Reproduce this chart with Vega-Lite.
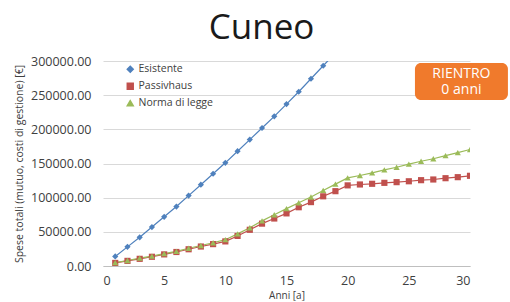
{
  "$schema": "https://vega.github.io/schema/vega-lite/v6.json",
  "autosize": {"type": "none"},
  "width": 367,
  "height": 205,
  "padding": {"left": 103, "top": 61, "right": 40, "bottom": 36},
  "background": "white",
  "title": {
    "text": "Cuneo",
    "font": "Open Sans",
    "fontSize": 35,
    "fontWeight": "normal",
    "color": "#1a1a1a",
    "anchor": "middle",
    "dx": -25,
    "offset": 9
  },
  "config": {
    "view": {"stroke": null},
    "font": "Open Sans",
    "axis": {
      "labelFont": "Open Sans",
      "labelFontSize": 12.5,
      "labelColor": "#404040",
      "titleFont": "Open Sans",
      "titleColor": "#404040",
      "titleFontWeight": "normal",
      "ticks": false,
      "gridColor": "#d9d9d9",
      "gridWidth": 1
    },
    "legend": {
      "orient": "none",
      "legendX": 22,
      "legendY": 3,
      "labelFontSize": 10.5,
      "labelColor": "#404040",
      "symbolSize": 35,
      "rowPadding": 4,
      "labelOffset": 3
    }
  },
  "datasets": {
    "series": [
      {"anno": 1, "spesa": 14000, "serie": "Esistente"},
      {"anno": 2, "spesa": 28000, "serie": "Esistente"},
      {"anno": 3, "spesa": 42000, "serie": "Esistente"},
      {"anno": 4, "spesa": 57000, "serie": "Esistente"},
      {"anno": 5, "spesa": 72000, "serie": "Esistente"},
      {"anno": 6, "spesa": 87000, "serie": "Esistente"},
      {"anno": 7, "spesa": 103000, "serie": "Esistente"},
      {"anno": 8, "spesa": 119000, "serie": "Esistente"},
      {"anno": 9, "spesa": 135000, "serie": "Esistente"},
      {"anno": 10, "spesa": 151000, "serie": "Esistente"},
      {"anno": 11, "spesa": 168000, "serie": "Esistente"},
      {"anno": 12, "spesa": 185000, "serie": "Esistente"},
      {"anno": 13, "spesa": 202000, "serie": "Esistente"},
      {"anno": 14, "spesa": 219000, "serie": "Esistente"},
      {"anno": 15, "spesa": 237000, "serie": "Esistente"},
      {"anno": 16, "spesa": 255000, "serie": "Esistente"},
      {"anno": 17, "spesa": 274000, "serie": "Esistente"},
      {"anno": 18, "spesa": 293000, "serie": "Esistente"},
      {"anno": 19, "spesa": 312000, "serie": "Esistente"},
      {"anno": 1, "spesa": 4500, "serie": "Passivhaus"},
      {"anno": 2, "spesa": 7500, "serie": "Passivhaus"},
      {"anno": 3, "spesa": 10500, "serie": "Passivhaus"},
      {"anno": 4, "spesa": 13500, "serie": "Passivhaus"},
      {"anno": 5, "spesa": 17000, "serie": "Passivhaus"},
      {"anno": 6, "spesa": 20500, "serie": "Passivhaus"},
      {"anno": 7, "spesa": 24500, "serie": "Passivhaus"},
      {"anno": 8, "spesa": 28500, "serie": "Passivhaus"},
      {"anno": 9, "spesa": 32000, "serie": "Passivhaus"},
      {"anno": 10, "spesa": 36000, "serie": "Passivhaus"},
      {"anno": 11, "spesa": 44000, "serie": "Passivhaus"},
      {"anno": 12, "spesa": 53000, "serie": "Passivhaus"},
      {"anno": 13, "spesa": 62000, "serie": "Passivhaus"},
      {"anno": 14, "spesa": 69500, "serie": "Passivhaus"},
      {"anno": 15, "spesa": 77000, "serie": "Passivhaus"},
      {"anno": 16, "spesa": 86000, "serie": "Passivhaus"},
      {"anno": 17, "spesa": 93500, "serie": "Passivhaus"},
      {"anno": 18, "spesa": 102000, "serie": "Passivhaus"},
      {"anno": 19, "spesa": 109500, "serie": "Passivhaus"},
      {"anno": 20, "spesa": 118000, "serie": "Passivhaus"},
      {"anno": 21, "spesa": 119300, "serie": "Passivhaus"},
      {"anno": 22, "spesa": 120300, "serie": "Passivhaus"},
      {"anno": 23, "spesa": 121700, "serie": "Passivhaus"},
      {"anno": 24, "spesa": 122700, "serie": "Passivhaus"},
      {"anno": 25, "spesa": 124000, "serie": "Passivhaus"},
      {"anno": 26, "spesa": 125600, "serie": "Passivhaus"},
      {"anno": 27, "spesa": 126600, "serie": "Passivhaus"},
      {"anno": 28, "spesa": 128500, "serie": "Passivhaus"},
      {"anno": 29, "spesa": 130000, "serie": "Passivhaus"},
      {"anno": 30, "spesa": 132000, "serie": "Passivhaus"},
      {"anno": 1, "spesa": 5000, "serie": "Norma di legge"},
      {"anno": 2, "spesa": 8000, "serie": "Norma di legge"},
      {"anno": 3, "spesa": 11500, "serie": "Norma di legge"},
      {"anno": 4, "spesa": 14500, "serie": "Norma di legge"},
      {"anno": 5, "spesa": 18000, "serie": "Norma di legge"},
      {"anno": 6, "spesa": 21500, "serie": "Norma di legge"},
      {"anno": 7, "spesa": 26000, "serie": "Norma di legge"},
      {"anno": 8, "spesa": 30000, "serie": "Norma di legge"},
      {"anno": 9, "spesa": 34000, "serie": "Norma di legge"},
      {"anno": 10, "spesa": 38500, "serie": "Norma di legge"},
      {"anno": 11, "spesa": 47000, "serie": "Norma di legge"},
      {"anno": 12, "spesa": 56000, "serie": "Norma di legge"},
      {"anno": 13, "spesa": 66000, "serie": "Norma di legge"},
      {"anno": 14, "spesa": 75000, "serie": "Norma di legge"},
      {"anno": 15, "spesa": 84000, "serie": "Norma di legge"},
      {"anno": 16, "spesa": 92600, "serie": "Norma di legge"},
      {"anno": 17, "spesa": 101000, "serie": "Norma di legge"},
      {"anno": 18, "spesa": 110600, "serie": "Norma di legge"},
      {"anno": 19, "spesa": 119800, "serie": "Norma di legge"},
      {"anno": 20, "spesa": 129000, "serie": "Norma di legge"},
      {"anno": 21, "spesa": 132400, "serie": "Norma di legge"},
      {"anno": 22, "spesa": 136300, "serie": "Norma di legge"},
      {"anno": 23, "spesa": 140600, "serie": "Norma di legge"},
      {"anno": 24, "spesa": 144500, "serie": "Norma di legge"},
      {"anno": 25, "spesa": 149000, "serie": "Norma di legge"},
      {"anno": 26, "spesa": 153300, "serie": "Norma di legge"},
      {"anno": 27, "spesa": 157000, "serie": "Norma di legge"},
      {"anno": 28, "spesa": 161500, "serie": "Norma di legge"},
      {"anno": 29, "spesa": 166000, "serie": "Norma di legge"},
      {"anno": 30, "spesa": 170500, "serie": "Norma di legge"}
    ]
  },
  "encoding": {
    "x": {
      "field": "anno",
      "type": "quantitative",
      "scale": {"domain": [0, 30], "nice": false},
      "axis": {
        "title": "Anni [a]",
        "titleFontSize": 10,
        "titlePadding": 4,
        "values": [0, 5, 10, 15, 20, 25, 30],
        "grid": false,
        "domainColor": "#bfbfbf",
        "labelPadding": 8
      }
    },
    "y": {
      "field": "spesa",
      "type": "quantitative",
      "scale": {"domain": [0, 300000], "nice": false},
      "axis": {
        "title": "Spese totali (mutuo, costi di gestione) [€]",
        "titleFontSize": 10.5,
        "titlePadding": 6,
        "values": [0, 50000, 100000, 150000, 200000, 250000, 300000],
        "format": ".2f",
        "domain": false,
        "labelPadding": 12
      }
    }
  },
  "layer": [
    {
      "data": {"name": "series"},
      "mark": {"type": "line", "strokeWidth": 1.2, "clip": true},
      "encoding": {
        "color": {
          "field": "serie",
          "type": "nominal",
          "title": null,
          "scale": {
            "domain": ["Esistente", "Passivhaus", "Norma di legge"],
            "range": ["#4f81bd", "#c0504d", "#9bbb59"]
          }
        }
      }
    },
    {
      "data": {"name": "series"},
      "mark": {"type": "point", "filled": true, "opacity": 1, "size": 38, "clip": true},
      "encoding": {
        "color": {
          "field": "serie",
          "type": "nominal",
          "title": null,
          "scale": {
            "domain": ["Esistente", "Passivhaus", "Norma di legge"],
            "range": ["#4f81bd", "#c0504d", "#9bbb59"]
          }
        },
        "shape": {
          "field": "serie",
          "type": "nominal",
          "title": null,
          "scale": {
            "domain": ["Esistente", "Passivhaus", "Norma di legge"],
            "range": ["diamond", "square", "triangle-up"]
          }
        }
      }
    },
    {
      "data": {"values": [{"x1": 25.5, "x2": 33.1, "y1": 297000, "y2": 243000}]},
      "mark": {"type": "rect", "color": "#f07a2c", "cornerRadius": 6, "clip": false},
      "encoding": {
        "x": {"field": "x1", "type": "quantitative"},
        "x2": {"field": "x2"},
        "y": {"field": "y1", "type": "quantitative"},
        "y2": {"field": "y2"}
      }
    },
    {
      "data": {"values": [
        {"tx": 29.3, "ty": 281000, "t": "RIENTRO"},
        {"tx": 29.3, "ty": 258000, "t": "0 anni"}
      ]},
      "mark": {"type": "text", "color": "white", "fontSize": 14, "font": "Open Sans", "align": "center", "baseline": "middle", "clip": false},
      "encoding": {
        "x": {"field": "tx", "type": "quantitative"},
        "y": {"field": "ty", "type": "quantitative"},
        "text": {"field": "t", "type": "nominal"}
      }
    }
  ]
}
